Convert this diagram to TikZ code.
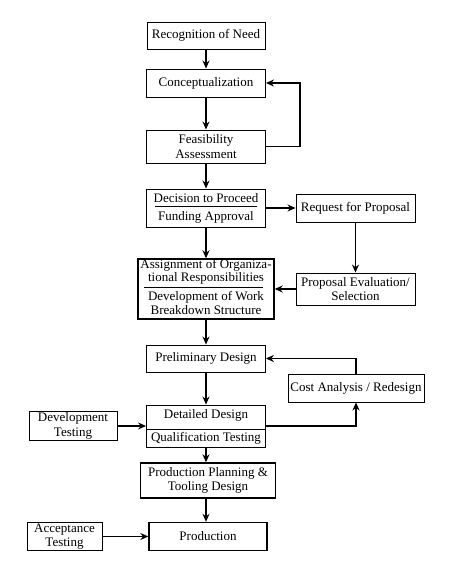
\documentclass[tikz,border=0pt]{standalone}
\usepackage{fontspec}
\setmainfont{Liberation Serif}
\usetikzlibrary{arrows.meta}

\begin{document}
\begin{tikzpicture}[x=1pt, y=-1pt,
    box/.style={draw, line width=0.9pt, align=center, inner sep=1pt, font=\fontsize{13}{14.5}\selectfont},
    heavybox/.style={box, line width=1.4pt},
    txt/.style={align=center, inner sep=0pt, font=\fontsize{13}{13.5}\selectfont},
    divider/.style={line width=0.8pt},
    flow/.style={->, line width=1.3pt},
    >={Stealth[length=8pt, width=7pt]}]

    % Fix the page size
    \useasboundingbox (0,0) rectangle (453,565);

    % Main column x position
    \def\mainX{206}

    % Draw main column
    \node[box, minimum width=118pt, minimum height=27pt] (need) at (\mainX,35.5) {Recognition of Need};
    \node[box, minimum width=119pt, minimum height=28pt] (concept) at (\mainX,83) {Conceptualization};
    \node[box, minimum width=119pt, minimum height=33pt] (feas) at (\mainX,146.5) {Feasibility\\Assessment};

    % Decision box with two parts
    \node[box, minimum width=119pt, minimum height=38pt] (decision) at (\mainX,208) {};
    \node[txt] (decisionTop) at (\mainX,198) {Decision to Proceed};
    \node[txt] (decisionBottom) at (\mainX,217) {Funding Approval};
    \draw[divider] (155,206) -- (257,206);

    % Assignment box with two parts
    \node[heavybox, minimum width=136pt, minimum height=60pt] (assign) at (\mainX,289) {};
    \node[txt] (assignTop) at (\mainX,272) {Assignment of Organiza-\\tional Responsibilities};
    \node[txt] (assignBottom) at (\mainX,303) {Development of Work\\Breakdown Structure};
    \draw[divider] (144,287) -- (263,287);

    \node[box, minimum width=119pt, minimum height=27pt] (prelim) at (\mainX,358.5) {Preliminary Design};

    % Detailed design box with two parts
    \node[box, minimum width=119pt, minimum height=42pt] (detailed) at (\mainX,426) {};
    \node[txt] (detailedTop) at (\mainX,415) {Detailed Design};
    \node[txt] (detailedBottom) at (\mainX,438) {Qualification Testing};
    \draw[divider] (detailed.west |- 0,429) -- (detailed.east |- 0,429);

    \node[heavybox, minimum width=135pt, minimum height=35pt] (planning) at (208,480.5) {Production Planning \&\\Tooling Design};
    \node[heavybox, minimum width=118pt, minimum height=28pt] (production) at (208,536.5) {Production};

    % Draw side boxes
    \node[box, minimum width=119pt, minimum height=28pt] (request) at (355.5,208) {Request for Proposal};
    \node[box, minimum width=119pt, minimum height=32pt] (evaluation) at (355.5,289) {Proposal Evaluation/\\Selection};
    \node[box, minimum width=136pt, minimum height=28pt] (cost) at (356,388) {Cost Analysis / Redesign};
    \node[box, minimum width=88pt, minimum height=28pt] (devtest) at (73,426) {Development\\Testing};
    \node[box, minimum width=75pt, minimum height=28pt] (accept) at (64.5,536.5) {Acceptance\\Testing};

    % Draw main flow
    \draw[flow] (need) -- (concept);
    \draw[flow] (concept) -- (feas);
    \draw[flow] (feas) -- (decision);
    \draw[flow] (decision) -- (assign);
    \draw[flow] (assign) -- (prelim);
    \draw[flow] (prelim) -- (detailed);
    \draw[flow] (detailed.south) -- (detailed.south |- planning.north);
    \draw[flow] (planning.south -| detailed.south) -- (detailed.south |- production.north);

    % Draw feedback and side flows
    \coordinate (loop) at (300,146.5);
    \draw[flow] (feas.east) -- (loop) |- (concept.east);
    \draw[flow] (decision.east) -- (request.west);
    \draw[flow] (request) -- (evaluation);
    \draw[flow] (evaluation.west) -- (assign.east);
    \draw[flow] (detailed.east) -| (cost.south);
    \draw[flow] (cost.north) |- (prelim.east);
    \draw[flow] (devtest.east) -- (detailed.west);
    \draw[flow] (accept.east) -- (production.west);

\end{tikzpicture}
\end{document}
